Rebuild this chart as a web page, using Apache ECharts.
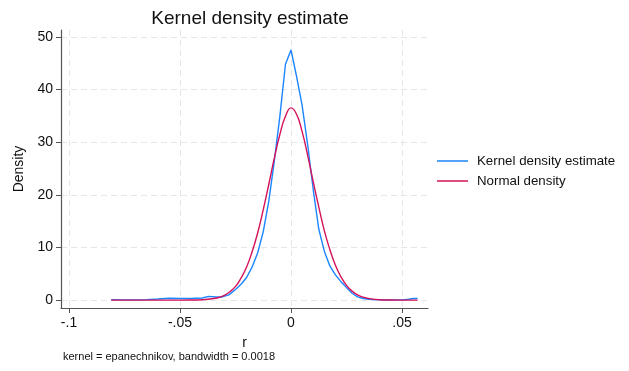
<!DOCTYPE html>
<html>
<head>
<meta charset="utf-8">
<script src="https://cdn.jsdelivr.net/npm/echarts@6/dist/echarts.min.js"></script>
<style>html,body{margin:0;padding:0;background:#fff}#c{width:629px;height:371px}</style>
</head>
<body>
<div id="c"></div>
<script>
const kdeX = [-0.081,-0.075,-0.07,-0.065,-0.06,-0.055,-0.05,-0.045,-0.04,-0.037,-0.034,-0.031,-0.028,-0.025,-0.0225,-0.02,-0.0175,-0.015,-0.0125,-0.01,-0.0075,-0.005,-0.0025,0,0.0025,0.005,0.0075,0.01,0.0125,0.015,0.0175,0.02,0.0225,0.025,0.0275,0.03,0.0325,0.035,0.04,0.045,0.05,0.053,0.055,0.057];
const kdeY = [0.1,0.05,0.05,0.1,0.2,0.35,0.3,0.3,0.4,0.7,0.6,0.6,1.0,2.0,3.0,4.3,6.3,9.0,13.0,18.8,26.5,35.0,44.8,47.5,42.5,37.0,29.5,21.0,13.5,9.3,6.5,4.8,3.5,2.4,1.3,0.6,0.3,0.15,0.05,0.05,0.05,0.15,0.3,0.3];
const normX = [-0.081,-0.07,-0.06,-0.05,-0.045,-0.04,-0.0375,-0.035,-0.0325,-0.03,-0.0275,-0.025,-0.0225,-0.02,-0.0175,-0.015,-0.0125,-0.01,-0.0075,-0.005,-0.0025,0,0.0025,0.005,0.0075,0.01,0.0125,0.015,0.0175,0.02,0.0225,0.025,0.0275,0.03,0.0325,0.035,0.04,0.045,0.05,0.057];
const normY = [0,0,0,0,0.02,0.08,0.15,0.3,0.5,0.9,1.6,2.6,4.2,6.3,9.2,12.8,17.2,22.0,27.0,31.5,34.9,36.5,35.3,32.0,27.5,22.5,17.7,13.2,9.6,6.6,4.4,2.8,1.7,1.0,0.55,0.3,0.08,0.02,0,0];
const xTicks = [-0.1,-0.05,0,0.05];
const yTicks = [0,10,20,30,40,50];
const xTickLabels = ['-.1','-.05','0','.05'];
const seriesNames = ['Kernel density estimate','Normal density'];

const FONT = 'Liberation Sans, Arial, sans-serif';
const chart = echarts.init(document.getElementById('c'));
const fmtX = v => { const i = xTicks.findIndex(t => Math.abs(t - v) < 1e-9); return i >= 0 ? xTickLabels[i] : ''; };
chart.setOption({
  backgroundColor: '#ffffff',
  animation: false,
  title: {
    text: 'Kernel density estimate',
    left: 245, top: 4, textAlign: 'center',
    textStyle: { fontFamily: FONT, fontSize: 19, fontWeight: 'normal', color: '#111' }
  },
  legend: {
    orient: 'vertical', left: 437, top: 154, itemGap: 6, padding: 0,
    icon: 'rect', itemWidth: 31, itemHeight: 1.5,
    textStyle: { fontFamily: FONT, fontSize: 13.3, color: '#111', padding: [0, 0, 0, 4], lineHeight: 14 },
    data: seriesNames
  },
  grid: { left: 61, right: 201, top: 30, bottom: 63 },
  xAxis: {
    type: 'value', min: -0.1036, max: 0.0617,
    name: 'r', nameLocation: 'middle', nameGap: 28,
    nameTextStyle: { fontFamily: FONT, fontSize: 14, color: '#111' },
    axisLine: { onZero: false, lineStyle: { color: '#555', width: 1.2 } },
    axisTick: { customValues: xTicks, length: 5, lineStyle: { color: '#555' } },
    axisLabel: { customValues: xTicks, formatter: fmtX, margin: 8, fontFamily: FONT, fontSize: 14, color: '#111' },
    splitLine: { show: true, lineStyle: { color: '#e6e6e6', type: [6, 4] } }
  },
  yAxis: {
    type: 'value', min: -1.5, max: 51.3,
    name: 'Density', nameLocation: 'middle', nameGap: 33, nameRotate: 90,
    nameTextStyle: { fontFamily: FONT, fontSize: 14, color: '#111' },
    axisLine: { show: true, onZero: false, lineStyle: { color: '#555', width: 1.2 } },
    axisTick: { show: true, customValues: yTicks, length: 5, lineStyle: { color: '#555' } },
    axisLabel: { customValues: yTicks, margin: 8, fontFamily: FONT, fontSize: 14, color: '#111' },
    splitLine: { show: true, lineStyle: { color: '#e6e6e6', type: [6, 4] } }
  },
  graphic: [{
    type: 'text', left: 63, top: 351,
    style: { text: 'kernel = epanechnikov, bandwidth = 0.0018', font: '11px ' + FONT, fill: '#111' }
  }],
  series: [
    { name: seriesNames[0], type: 'line', showSymbol: false, smooth: false,
      lineStyle: { color: '#1A85FF', width: 1.4 }, itemStyle: { color: '#1A85FF' },
      data: kdeX.map((x, i) => [x, kdeY[i]]) },
    { name: seriesNames[1], type: 'line', showSymbol: false, smooth: true,
      lineStyle: { color: '#D41159', width: 1.4 }, itemStyle: { color: '#D41159' },
      data: normX.map((x, i) => [x, normY[i]]) }
  ]
});
</script>
</body>
</html>
